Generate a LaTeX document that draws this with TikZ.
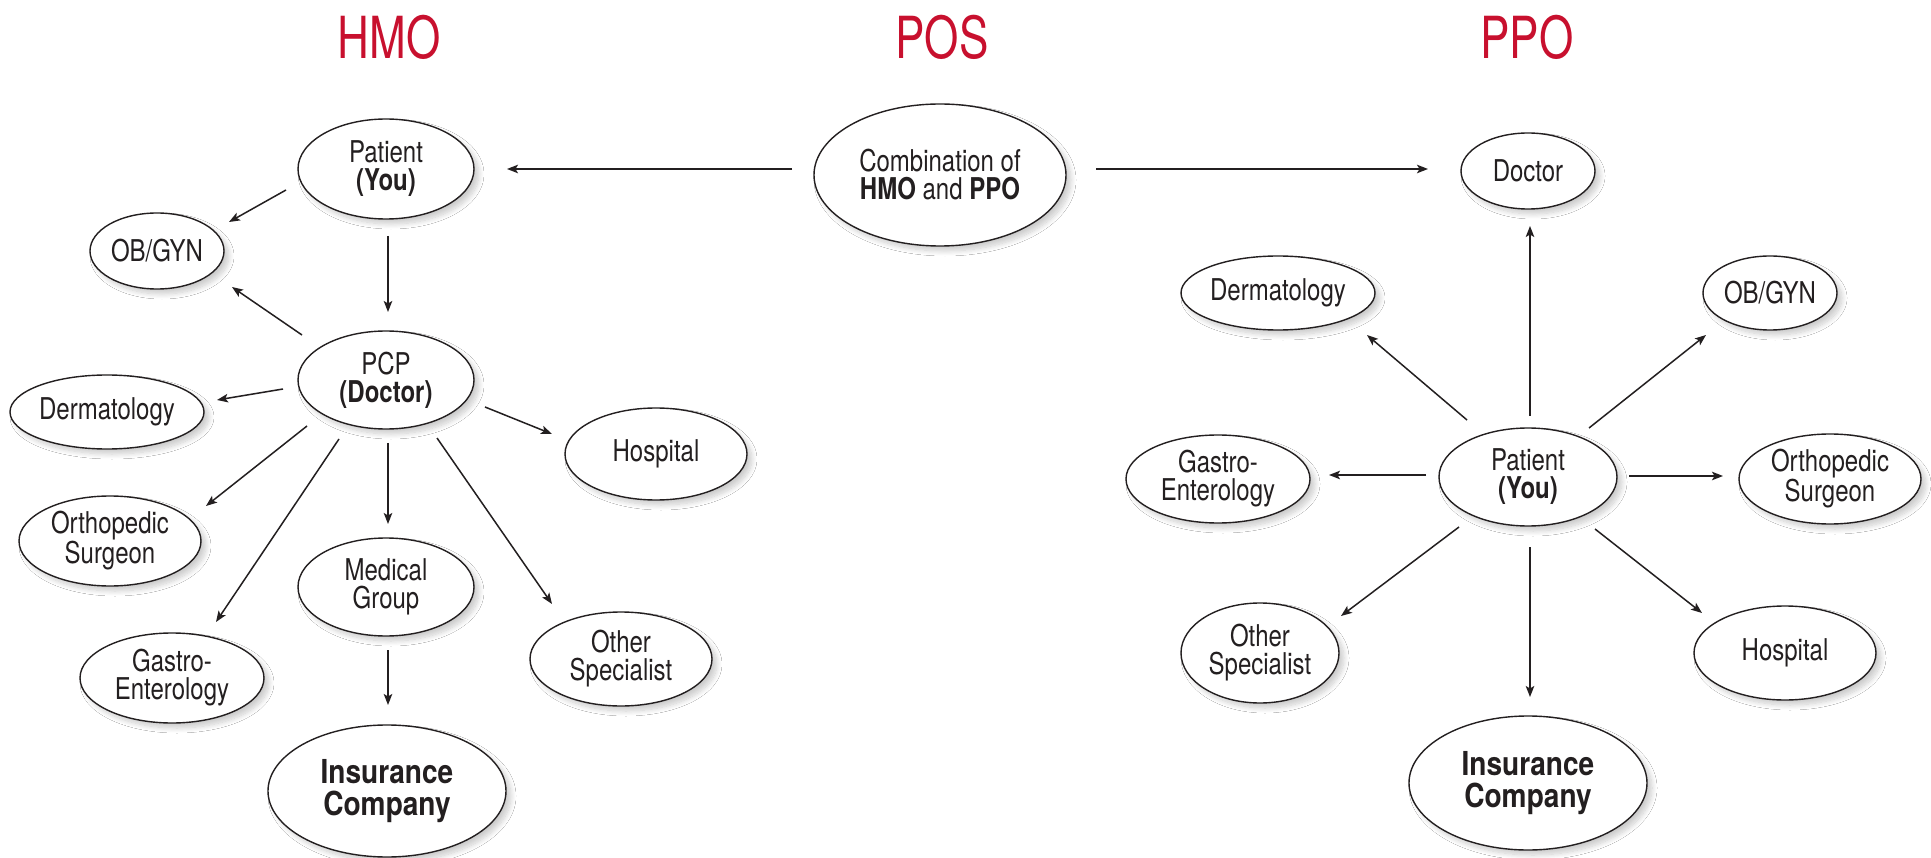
\documentclass[tikz,border=0pt]{standalone}
\usepackage{fontspec}
\setmainfont{TeX Gyre Heros}[FakeStretch=0.8]
\newfontfamily\bigfont{TeX Gyre Heros}[FakeStretch=0.85]
\newfontfamily\titlefont{TeX Gyre Heros}[FakeStretch=0.76]
\usetikzlibrary{arrows.meta,shapes.geometric,shadows.blur}
\definecolor{ink}{RGB}{35,31,32}
\definecolor{titlered}{RGB}{200,16,46}
\tikzset{
  bub/.style={ellipse, draw=ink, line width=1.4pt, fill=white, inner sep=0pt,
    align=center, text=ink, font=\fontsize{30}{28}\selectfont,
    blur shadow={shadow xshift=5pt, shadow yshift=-5pt, shadow blur radius=5pt, shadow blur steps=10, shadow opacity=20}},
  bigtext/.style={font=\bigfont\fontsize{33}{32}\selectfont\bfseries},
  arr/.style={draw=ink, line width=1.5pt, -{Stealth[length=11pt,width=8.5pt,inset=2.5pt]}},
  ttl/.style={text=titlered, font=\titlefont\fontsize{58}{58}\selectfont, inner sep=0pt},
}
\begin{document}
\begin{tikzpicture}[x=1pt,y=-1pt]
\useasboundingbox[fill=white] (0,0) rectangle (1931,858);
% titles
\node[ttl] (tHMO) at (389,37) {HMO};
\node[ttl] (tPOS) at (942,37) {POS};
\node[ttl] (tPPO) at (1527,37) {PPO};
% HMO nodes
\node[bub, minimum width=176pt, minimum height=100pt] (hpat) at (386,169) {Patient\\\textbf{(You)}};
\node[bub, minimum width=134pt, minimum height=76pt] (hob) at (157,251) {OB/GYN};
\node[bub, minimum width=176pt, minimum height=98pt] (hpcp) at (386,380) {PCP\\\textbf{(Doctor)}};
\node[bub, minimum width=194pt, minimum height=74pt] (hder) at (107,412) {Dermatology};
\node[bub, minimum width=182pt, minimum height=90pt] (hort) at (110,541) {Orthopedic\\Surgeon};
\node[bub, minimum width=184pt, minimum height=90pt] (hgas) at (172,678) {Gastro-\\Enterology};
\node[bub, minimum width=176pt, minimum height=98pt] (hmed) at (386,587) {Medical\\Group};
\node[bub, minimum width=182pt, minimum height=92pt] (hhos) at (656,454) {Hospital};
\node[bub, minimum width=182pt, minimum height=94pt] (hoth) at (621,659) {Other\\Specialist};
\node[bub, bigtext, minimum width=238pt, minimum height=132pt] (hins) at (387,791) {Insurance\\Company};
% POS node
\node[bub, minimum width=252pt, minimum height=142pt] (pos) at (940,175) {Combination of\\\textbf{HMO} and \textbf{PPO}};
% PPO nodes
\node[bub, minimum width=134pt, minimum height=76pt] (pdoc) at (1528,171) {Doctor};
\node[bub, minimum width=194pt, minimum height=74pt] (pder) at (1278,293) {Dermatology};
\node[bub, minimum width=134pt, minimum height=74pt] (pob) at (1770,293) {OB/GYN};
\node[bub, minimum width=178pt, minimum height=98pt] (ppat) at (1528,477) {Patient\\\textbf{(You)}};
\node[bub, minimum width=184pt, minimum height=88pt] (pgas) at (1218,479) {Gastro-\\Enterology};
\node[bub, minimum width=182pt, minimum height=90pt] (port) at (1830,479) {Orthopedic\\Surgeon};
\node[bub, minimum width=158pt, minimum height=100pt] (poth) at (1260,653) {Other\\Specialist};
\node[bub, minimum width=182pt, minimum height=94pt] (phos) at (1785,653) {Hospital};
\node[bub, bigtext, minimum width=238pt, minimum height=134pt] (pins) at (1528,783) {Insurance\\Company};
% connector end points
\coordinate (posL) at (792,169);  \coordinate (hpatR) at (507,169);
\coordinate (posR) at (1096,169); \coordinate (pdocL) at (1428,169);
\coordinate (a1s) at (286,190); \coordinate (a1e) at (229,222);
\coordinate (a2s) at (388,236); \coordinate (a2e) at (388,312);
\coordinate (a3s) at (302,335); \coordinate (a3e) at (232,287);
\coordinate (a4s) at (283,389); \coordinate (a4e) at (217,400);
\coordinate (a5s) at (307,426); \coordinate (a5e) at (206,506);
\coordinate (a6s) at (339,439); \coordinate (a6e) at (216,622);
\coordinate (a7s) at (388,443); \coordinate (a7e) at (388,524);
\coordinate (a8s) at (437,438); \coordinate (a8e) at (552,604);
\coordinate (a9s) at (485,407); \coordinate (a9e) at (552,434);
\coordinate (a10s) at (388,650); \coordinate (a10e) at (388,705);
\coordinate (b1s) at (1530,416); \coordinate (b1e) at (1530,226);
\coordinate (b2s) at (1467,420); \coordinate (b2e) at (1367,335);
\coordinate (b3s) at (1589,428); \coordinate (b3e) at (1706,335);
\coordinate (b4s) at (1426,475); \coordinate (b4e) at (1329,475);
\coordinate (b5s) at (1629,476); \coordinate (b5e) at (1723,476);
\coordinate (b6s) at (1459,527); \coordinate (b6e) at (1341,616);
\coordinate (b7s) at (1595,529); \coordinate (b7e) at (1702,613);
\coordinate (b8s) at (1530,547); \coordinate (b8e) at (1530,697);
% connectors
\draw[arr] (posL) -- (hpatR);
\draw[arr] (posR) -- (pdocL);
\draw[arr] (a1s) -- (a1e);
\draw[arr] (a2s) -- (a2e);
\draw[arr] (a3s) -- (a3e);
\draw[arr] (a4s) -- (a4e);
\draw[arr] (a5s) -- (a5e);
\draw[arr] (a6s) -- (a6e);
\draw[arr] (a7s) -- (a7e);
\draw[arr] (a8s) -- (a8e);
\draw[arr] (a9s) -- (a9e);
\draw[arr] (a10s) -- (a10e);
\draw[arr] (b1s) -- (b1e);
\draw[arr] (b2s) -- (b2e);
\draw[arr] (b3s) -- (b3e);
\draw[arr] (b4s) -- (b4e);
\draw[arr] (b5s) -- (b5e);
\draw[arr] (b6s) -- (b6e);
\draw[arr] (b7s) -- (b7e);
\draw[arr] (b8s) -- (b8e);
\end{tikzpicture}
\end{document}
